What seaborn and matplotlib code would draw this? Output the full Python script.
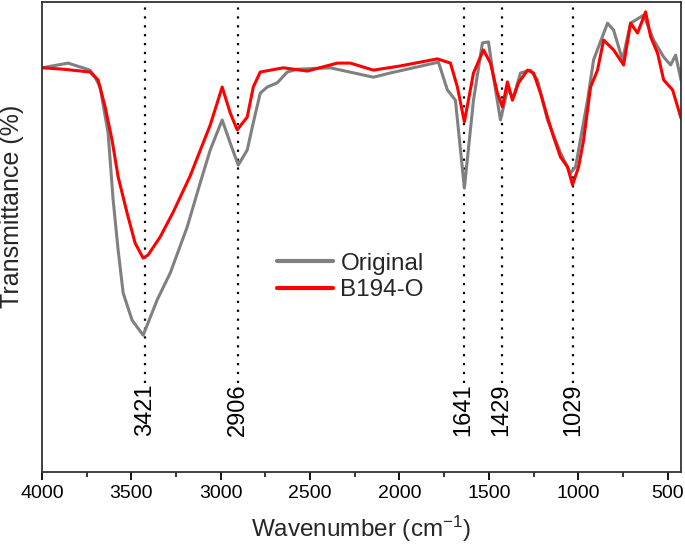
import numpy as np
import pandas as pd
import seaborn as sns
import matplotlib
matplotlib.use("Agg")
import matplotlib.pyplot as plt
from matplotlib.ticker import MultipleLocator

# ---- data ----
wn_original = [4000, 3854, 3731, 3703, 3675, 3630, 3602, 3574, 3546, 3496, 3434, 3356, 3283,
               3188, 3115, 3059, 2992, 2947, 2902, 2852, 2818, 2779, 2740, 2684, 2628, 2572,
               2387, 2146, 2051, 1782, 1732, 1687, 1637, 1586, 1536, 1502, 1474, 1435, 1396,
               1362, 1323, 1267, 1228, 1172, 1099, 1043, 1015, 948, 914, 836, 802, 752, 707,
               634, 578, 522, 483, 455, 425]
t_original = [86.0, 87.0, 85.5, 84.0, 81.9, 72.1, 57.9, 47.2, 38.1, 32.3, 29.1, 36.6, 42.3,
               52.1, 61.5, 68.5, 74.9, 70.0, 65.3, 68.5, 74.3, 80.6, 81.9, 82.8, 85.1, 85.7,
               86.0, 84.0, 84.9, 87.2, 81.3, 79.1, 60.4, 79.1, 91.3, 91.5, 84.0, 74.9, 81.3,
               79.8, 84.9, 85.5, 83.4, 74.9, 67.9, 63.6, 64.9, 79.1, 87.7, 95.5, 94.0, 87.7, 95.5,
               97.2, 91.9, 88.3, 86.6, 88.7, 83.4]

wn_b194 = [4000, 3882, 3731, 3686, 3647, 3608, 3574, 3524, 3479, 3434, 3406, 3339, 3266,
           3171, 3059, 2992, 2947, 2908, 2852, 2818, 2779, 2650, 2516, 2348, 2275, 2146,
           1995, 1788, 1715, 1676, 1637, 1586, 1530, 1491, 1452, 1424, 1396, 1368, 1334, 1284,
           1250, 1211, 1172, 1138, 1099, 1060, 1032, 998, 970, 931, 892, 858, 802, 746, 707,
           668, 623, 595, 556, 522, 472, 425]
t_b194 = [86.0, 85.7, 85.1, 83.4, 77.7, 70.6, 62.8, 55.1, 48.7, 45.5, 46.2, 50.0, 55.3,
          63.0, 73.8, 81.9, 76.4, 72.8, 75.5, 81.9, 85.1, 86.0, 85.3, 87.0, 87.0, 85.5,
          86.4, 87.9, 87.0, 81.9, 74.5, 84.9, 89.8, 87.0, 80.6, 77.7, 83.0, 79.1, 82.8, 85.5,
          84.9, 80.6, 75.5, 71.3, 67.0, 64.9, 61.1, 64.9, 70.6, 81.9, 85.5, 91.9, 89.8, 86.6,
          95.5, 93.4, 97.9, 92.6, 89.1, 83.4, 81.3, 75.3]

series_names = ["Original", "B194-O"]
peak_positions = [3421, 2906, 1641, 1429, 1029]
peak_labels = ["3421", "2906", "1641", "1429", "1029"]
x_ticks = [4000, 3500, 3000, 2500, 2000, 1500, 1000, 500]

df = pd.concat([
    pd.DataFrame({"wn": wn_original, "T": t_original, "sample": series_names[0]}),
    pd.DataFrame({"wn": wn_b194, "T": t_b194, "sample": series_names[1]}),
], ignore_index=True)

# ---- style ----
sns.set_theme(style="ticks")
plt.rcParams["font.family"] = ["Liberation Sans", "DejaVu Sans"]
plt.rcParams["mathtext.fontset"] = "custom"
plt.rcParams["mathtext.rm"] = "Liberation Sans"
plt.rcParams["mathtext.it"] = "Liberation Sans"

fig = plt.figure(figsize=(6.85, 5.53), dpi=100)
ax = fig.add_axes([42 / 685, 1 - 472 / 553, (681 - 42) / 685, 470 / 553])

sns.lineplot(data=df, x="wn", y="T", hue="sample", sort=False, estimator=None,
             palette={"Original": "#808080", "B194-O": "#ff0000"},
             hue_order=series_names, linewidth=2.2, ax=ax)

for pos, lab in zip(peak_positions, peak_labels):
    ax.plot([pos, pos], [19.0, 100], linestyle=(0, (1, 3)), color="black", linewidth=1.6, zorder=1)
    ax.text(pos, 18.8, lab, rotation=90, ha="center", va="top", fontsize=17, color="black")

ax.set_xlim(4000, 425)
ax.set_ylim(0, 100)
ax.set_xticks(x_ticks)
ax.xaxis.set_minor_locator(MultipleLocator(250))
ax.tick_params(axis="x", which="major", direction="out", length=6, width=1.3, labelsize=14, colors="black")
ax.tick_params(axis="x", which="minor", direction="out", length=3.5, width=1.3)
ax.set_yticks([])
ax.set_xlabel("Wavenumber (cm$^{-1}$)", fontsize=17.5, labelpad=8)
ax.set_ylabel("Transmittance (%)", fontsize=18)
ax.yaxis.set_label_coords(-0.028, 0.565)
for s in ax.spines.values():
    s.set_visible(True)
    s.set_linewidth(1.3)
    s.set_color("#333333")

leg = ax.legend(loc="center", bbox_to_anchor=(0.483, 0.415), frameon=False, fontsize=17.5,
                handlelength=2.3, handletextpad=0.3, labelspacing=0.2)
for line in leg.get_lines():
    line.set_linewidth(3)

fig.savefig("out.png", dpi=100)
